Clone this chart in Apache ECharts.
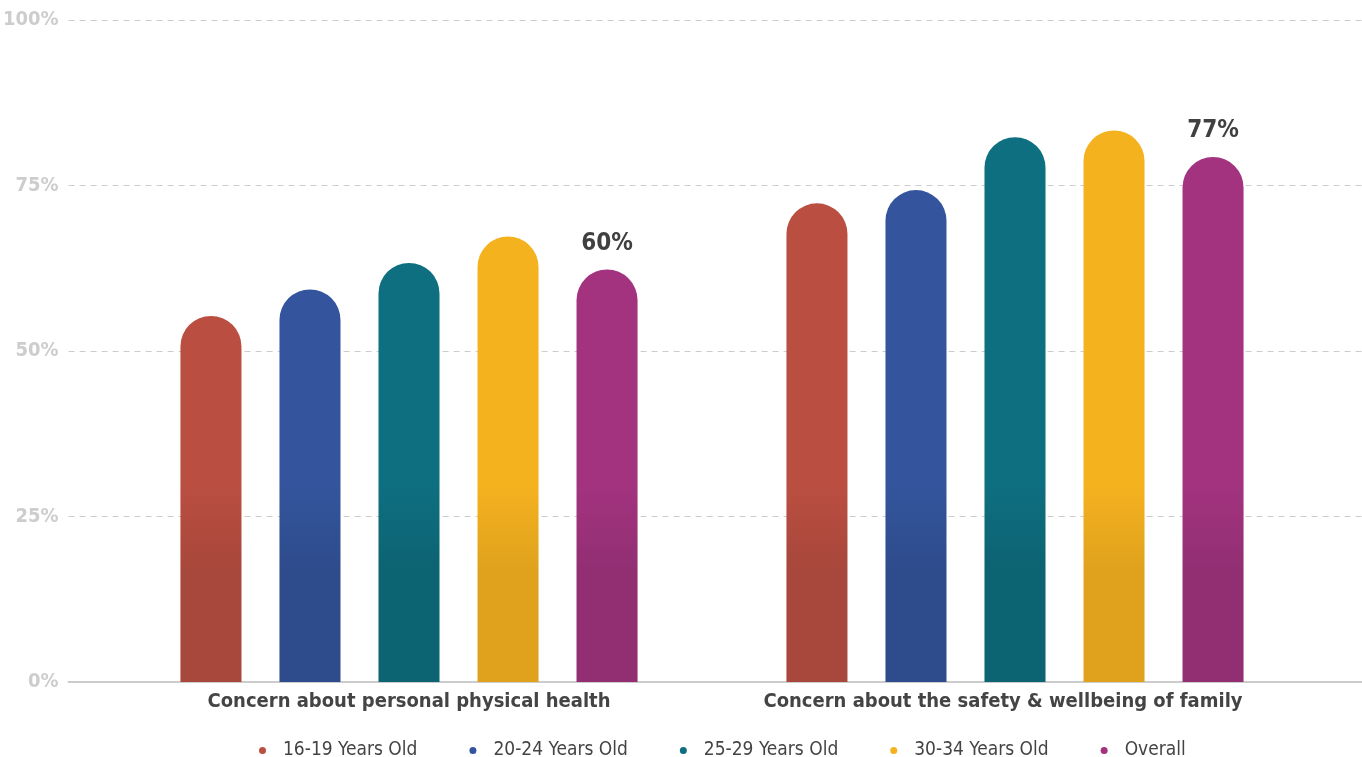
<!DOCTYPE html>
<html>
<head>
<meta charset="utf-8">
<script src="https://cdn.jsdelivr.net/npm/echarts@6/dist/echarts.min.js"></script>
<style>
  html, body { margin: 0; padding: 0; background: #fff; }
  #main { width: 1362px; height: 757px; }
</style>
</head>
<body>
<div id="main"></div>
<script>
var FONT = '"Liberation Sans Narrow", "DejaVu Sans Condensed", "Roboto", sans-serif';

// data
var categories = ['Concern about personal physical health', 'Concern about the safety & wellbeing of family'];
var seriesNames = ['16-19 Years Old', '20-24 Years Old', '25-29 Years Old', '30-34 Years Old', 'Overall'];
var age1619 = [53, 70];
var age2024 = [57, 72];
var age2529 = [61, 80];
var age3034 = [65, 81];
var overall = [60, 77];
var yTicks = [0, 25, 50, 75, 100];

var topColors = ['#BA4F41', '#34559D', '#0E6F80', '#F5B21F', '#A3337F'];
var bottomColors = ['#A8473B', '#2E4C8C', '#0C6372', '#E0A21D', '#922F73'];
var allValues = [age1619, age2024, age2529, age3034, overall];

var myChart = echarts.init(document.getElementById('main'), null, { renderer: 'canvas' });

function makeRender(k, showLabel) {
    return function (params, api) {
        var cat = api.value(0);
        var val = api.value(1);
        var top = api.coord([cat, val]);
        var base = api.coord([cat, 0]);
        var band = api.size([1, 0])[0];
        var w = band * 0.1007;
        var cx = top[0] + (k - 2) * band * 0.1634;
        var lift = w / 4; // the rounded cap sits a bit above the value
        var y0 = top[1] - lift;
        // shading goes darker around the 20-30% band (same height for all bars)
        var g1 = api.coord([cat, 30])[1];
        var g2 = api.coord([cat, 17])[1];
        var children = [{
            type: 'rect',
            shape: { x: cx - w / 2, y: y0, width: w, height: base[1] - y0, r: [w / 2, w / 2, 0, 0] },
            style: {
                fill: new echarts.graphic.LinearGradient(0, g1, 0, g2, [
                    { offset: 0, color: topColors[k] },
                    { offset: 1, color: bottomColors[k] }
                ], true)
            }
        }];
        if (showLabel) {
            children.push({
                type: 'text',
                style: {
                    text: val + '%',
                    x: cx,
                    y: y0 - 14,
                    align: 'center',
                    verticalAlign: 'bottom',
                    fill: '#404040',
                    font: 'bold 24px ' + FONT
                }
            });
        }
        return { type: 'group', children: children };
    };
}

var series = [];
for (var k = 0; k < seriesNames.length; k++) {
    var d = [];
    for (var i = 0; i < categories.length; i++) {
        d.push([i, allValues[k][i]]);
    }
    series.push({
        name: seriesNames[k],
        type: 'custom',
        xAxisIndex: 1,
        yAxisIndex: 1,
        itemStyle: { color: topColors[k] },
        renderItem: makeRender(k, k === 4),
        data: d,
        animation: false
    });
}

myChart.setOption({
    backgroundColor: '#fff',
    animation: false,
    legend: {
        data: seriesNames,
        icon: 'circle',
        itemWidth: 7,
        itemHeight: 7,
        itemGap: 52,
        left: 254,
        top: 736,
        textStyle: {
            color: '#444',
            fontFamily: FONT,
            fontSize: 19,
            padding: [0, 0, 0, 12]
        }
    },
    grid: [
        { left: 68, right: 0, top: 20, bottom: 75 },
        { left: 106, right: 44, top: 20, bottom: 75 }
    ],
    xAxis: [
        {
            type: 'category',
            gridIndex: 0,
            data: categories,
            axisLabel: { show: false },
            axisTick: { show: false },
            axisLine: { show: true, lineStyle: { color: '#cccccc', width: 2 } }
        },
        {
            type: 'category',
            gridIndex: 1,
            data: [
                categories[0],
                { value: categories[1], textStyle: { padding: [0, 24, 0, 0] } }
            ],
            axisLabel: {
                interval: 0,
                margin: 10,
                color: '#444',
                fontFamily: FONT,
                fontWeight: 'bold',
                fontSize: 20
            },
            axisTick: { show: false },
            axisLine: { show: false }
        }
    ],
    yAxis: [
        {
            type: 'value',
            gridIndex: 0,
            min: yTicks[0],
            max: yTicks[yTicks.length - 1],
            interval: 25,
            axisLabel: {
                margin: 10,
                formatter: '{value}%',
                color: '#cdcdcd',
                fontFamily: FONT,
                fontWeight: 'bold',
                fontSize: 20
            },
            axisLine: { show: false },
            axisTick: { show: false },
            splitLine: { lineStyle: { color: '#cccccc', type: [6, 5], width: 1 } }
        },
        {
            type: 'value',
            gridIndex: 1,
            min: 0,
            max: 100,
            show: false,
            splitLine: { show: false }
        }
    ],
    series: series
});
</script>
</body>
</html>
